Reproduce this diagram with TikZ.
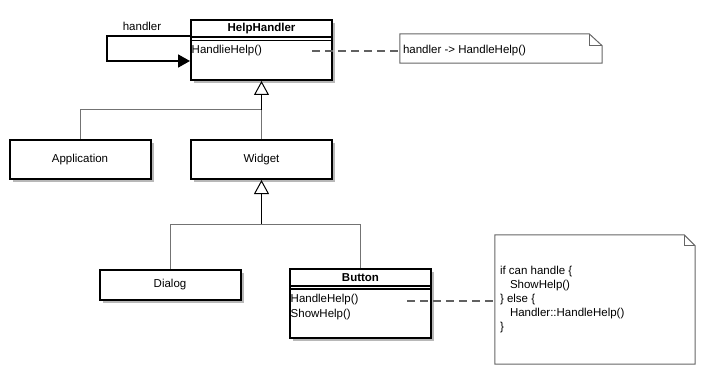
\documentclass[tikz,border=0pt]{standalone}
\usepackage{fontspec}
\setmainfont{Liberation Sans}
\usetikzlibrary{arrows.meta,shadows}

\begin{document}
\begin{tikzpicture}[x=1pt,y=-1pt,
  txt/.style={font=\fontsize{11.5}{14}\selectfont, inner sep=0pt},
  classbox/.style={draw=black, line width=2pt, fill=white, inner sep=0pt,
    minimum width=141pt,
    drop shadow={shadow xshift=3pt, shadow yshift=-3pt, fill=black!28, opacity=1}},
  divider/.style={line width=1.3pt},
  notebody/.style={inner sep=0pt, draw=none},
  noteline/.style={draw=black!60, line width=1pt, fill=white},
  dashline/.style={draw=black!62, line width=2pt, dash pattern=on 8pt off 5pt},
  gen/.style={draw=black!55, line width=1pt},
  trunk/.style={draw=black, line width=1pt,
    -{Triangle[open, length=14pt, width=15pt, line width=1pt, fill=white]}},
  selfref/.style={draw=black, line width=1.8pt,
    -{Triangle[length=12pt, width=13pt]}}
]
\useasboundingbox (0,0) rectangle (715,385);

% ---- classes ----
\node[classbox, minimum height=60pt] (hh) at (261.5,50) {};
\node[classbox, minimum height=39pt] (app) at (80,159.5) {};
\node[classbox, minimum height=39pt] (widget) at (261.5,159.5) {};
\node[classbox, minimum height=30pt] (dialog) at (170,284.5) {};
\node[classbox, minimum height=69pt] (button) at (360.5,303.5) {};

% HelpHandler compartments
\draw[divider] ([yshift=-18pt]hh.north west) -- ([yshift=-18pt]hh.north east);
\draw[divider] ([yshift=-21.5pt]hh.north west) -- ([yshift=-21.5pt]hh.north east);
\node[txt] (hhname) at ([yshift=-9.5pt]hh.north) {\bfseries HelpHandler};
\node[txt, anchor=west] (hhop) at ([shift={(1.5pt,-32pt)}]hh.north west) {HandlieHelp()};

% Button compartments
\draw[divider] ([yshift=-18pt]button.north west) -- ([yshift=-18pt]button.north east);
\draw[divider] ([yshift=-21pt]button.north west) -- ([yshift=-21pt]button.north east);
\node[txt] (btnname) at ([yshift=-9.5pt]button.north) {\bfseries Button};
\node[txt, anchor=west] (btnop1) at ([shift={(1.5pt,-32pt)}]button.north west) {HandleHelp()};
\node[txt, anchor=west] (btnop2) at ([shift={(1.5pt,-46.5pt)}]button.north west) {ShowHelp()};

% simple classes
\node[txt] (applbl) at (app) {Application};
\node[txt] (widgetlbl) at (widget) {Widget};
\node[txt] (dialoglbl) at (dialog) {Dialog};

% ---- generalisation ----
\coordinate (j1) at (261.5,110);
\coordinate (j2) at (261.5,224);
\draw[gen] (app.north) |- (j1);
\draw[gen] (widget.north) -- (j1);
\draw[trunk] (j1) -- (hh.south);
\draw[gen] (dialog.north) |- (j2);
\draw[gen] (button.north) |- (j2);
\draw[trunk] (j2) -- (widget.south);

% ---- self association ----
\draw[selfref] ([yshift=-17pt]hh.north west) -- ++(-83pt,0pt) -- ++(0pt,-25pt) -- ([yshift=-42pt]hh.north west);
\node[txt] (selflbl) at (142,26) {handler};

% ---- notes ----
\node[notebody, minimum width=202pt, minimum height=29pt] (n1) at (501,48.5) {};
\draw[noteline] (n1.south west) -- (n1.north west) -- ([xshift=-13pt]n1.north east)
  -- ([yshift=-12pt]n1.north east) -- (n1.south east) -- cycle;
\draw[noteline, fill=none] ([xshift=-13pt]n1.north east) |- ([yshift=-12pt]n1.north east);
\node[txt, anchor=west] (n1txt) at ([xshift=3pt,yshift=-2pt]n1.west) {handler -> HandleHelp()};

\node[notebody, minimum width=200pt, minimum height=129pt] (n2) at (595,299.5) {};
\draw[noteline] (n2.south west) -- (n2.north west) -- ([xshift=-11pt]n2.north east)
  -- ([yshift=-11pt]n2.north east) -- (n2.south east) -- cycle;
\draw[noteline, fill=none] ([xshift=-11pt]n2.north east) |- ([yshift=-11pt]n2.north east);
\node[txt, anchor=west, align=left] (n2txt) at ([xshift=5pt]n2.west)
  {if can handle \{\\\hspace*{10pt}ShowHelp()\\\} else \{\\\hspace*{10pt}Handler::HandleHelp()\\\}};

% ---- note anchors ----
\coordinate (hhd) at (312,51);
\coordinate (btnd) at (407,301);
\draw[dashline] (hhd) -- (n1.west |- hhd);
\draw[dashline] (btnd) -- (n2.west |- btnd);
\end{tikzpicture}
\end{document}
